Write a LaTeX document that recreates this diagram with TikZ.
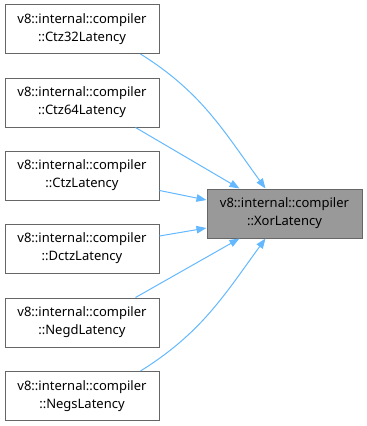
\documentclass[tikz,border=0pt]{standalone}
\usepackage{fontspec}
\setmainfont{Noto Sans}
\usepackage{xcolor}
\usepackage{tikz}
\usetikzlibrary{arrows, arrows.meta}
\usetikzlibrary{positioning}

\definecolor{edgeblue}{HTML}{63B8FF}
\definecolor{boxborder}{HTML}{666666}
\definecolor{boxgray}{HTML}{999999}

\tikzset{
  classbox/.style={draw=boxborder, fill=white, line width=1pt, align=center,
    minimum width=154pt, minimum height=49pt, inner sep=0pt,
    font=\fontsize{13}{18}\selectfont},
  current/.style={classbox, fill=boxgray, minimum width=155pt},
  uses/.style={edgeblue, line width=1pt,
    -{Triangle[length=10pt, width=7.5pt]}},
}

\begin{document}
\begin{tikzpicture}[x=1pt, y=-1pt]
      \useasboundingbox (0,0) rectangle (367,426);

      \node[current] (XorLatency) at (284.5,213.5)
        {v8::internal::compiler\\::XorLatency};

      \node[classbox] (Ctz32Latency) at (82,29)
        {v8::internal::compiler\\::Ctz32Latency};
      \node[classbox] (Ctz64Latency) at (82,102.5)
        {v8::internal::compiler\\::Ctz64Latency};
      \node[classbox] (CtzLatency) at (82,175.5)
        {v8::internal::compiler\\::CtzLatency};
      \node[classbox] (DctzLatency) at (82,248.5)
        {v8::internal::compiler\\::DctzLatency};
      \node[classbox] (NegdLatency) at (82,322.5)
        {v8::internal::compiler\\::NegdLatency};
      \node[classbox] (NegsLatency) at (82,396)
        {v8::internal::compiler\\::NegsLatency};

      % callers into XorLatency
      \draw[uses] ([xshift=-19pt]Ctz32Latency.south east)
        to[out=-32, in=126] ([xshift=59pt]XorLatency.north west);
      \draw[uses] ([xshift=-24pt]Ctz64Latency.south east)
        -- ([xshift=33pt]XorLatency.north west);
      \draw[uses] ([yshift=-15pt]CtzLatency.east)
        -- ([yshift=13.5pt]XorLatency.west);
      \draw[uses] ([yshift=12.5pt]DctzLatency.east)
        -- ([yshift=-14.5pt]XorLatency.west);
      \draw[uses] ([xshift=-24pt]NegdLatency.north east)
        -- ([xshift=33pt]XorLatency.south west);
      \draw[uses] ([xshift=-19pt]NegsLatency.north east)
        to[out=32, in=-126] ([xshift=59pt]XorLatency.south west);
    \end{tikzpicture}
\end{document}
